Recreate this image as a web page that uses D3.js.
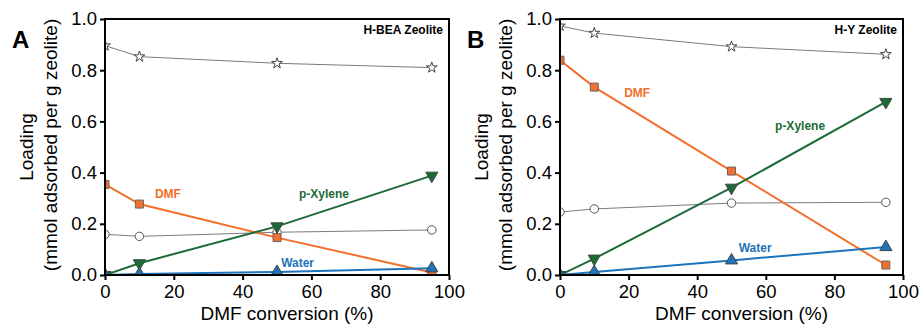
<!DOCTYPE html>
<html>
<head>
<meta charset="utf-8">
<script src="https://cdn.jsdelivr.net/npm/d3@7"></script>
<style>
  body { margin: 0; background: #fff; }
  text { font-family: Arial, 'Liberation Sans', Helvetica, sans-serif; }
</style>
</head>
<body>
<svg id="chart" width="921" height="325"></svg>
<script>
// DMF conversion (%) at which loadings were measured
const conversion = [0, 10, 50, 95];

// H-BEA zeolite
const beaTotal = [0.896, 0.853, 0.827, 0.81];
const beaOther = [0.159, 0.151, 0.167, 0.176];
const beaDMF = [0.354, 0.277, 0.146, 0.01];
const beaXylene = [0.0, 0.046, 0.19, 0.388];
const beaWater = [0.0, 0.004, 0.012, 0.026];

// H-Y zeolite
const hyTotal = [0.973, 0.945, 0.892, 0.862];
const hyOther = [0.246, 0.258, 0.281, 0.284];
const hyDMF = [0.839, 0.734, 0.406, 0.039];
const hyXylene = [0.0, 0.064, 0.341, 0.676];
const hyWater = [0.0, 0.012, 0.057, 0.109];

const xTicks = [0, 20, 40, 60, 80, 100];
const yTicks = [0, 0.2, 0.4, 0.6, 0.8, 1.0];

const GRAY = '#7a7a7a';
const ORANGE = '#f36f2c';
const GREEN = '#1b6b37';
const BLUE = '#1e73bb';
const FONT = 19;
const TICK_FONT = 18.5;

const svg = d3.select('#chart');

// one panel = one zeolite
function drawPanel(opts) {
  const { left, right, top, bottom, letter, title, series, labels, id } = opts;
  const x = d3.scaleLinear().domain([0, 100]).range([left, right]);
  const y = d3.scaleLinear().domain([0, 1]).range([bottom, top]);
  const g = svg.append('g').attr('id', id);

  g.append('clipPath')
    .attr('id', `clip-${id}`)
    .append('rect')
    .attr('x', left)
    .attr('y', top)
    .attr('width', right - left)
    .attr('height', bottom - top);

  const plot = g.append('g').attr('clip-path', `url(#clip-${id})`);

  const line = (vals) =>
    d3.line()
      .x((_, i) => x(conversion[i]))
      .y((d) => y(d))(vals);

  // lines first, markers on top
  series.forEach((s) => {
    plot.append('path')
      .attr('d', line(s.values))
      .attr('fill', 'none')
      .attr('stroke', s.line)
      .attr('stroke-width', s.width);
  });

  series.forEach((s) => {
    plot.append('g')
      .selectAll('path')
      .data(s.values)
      .join('path')
      .attr('d', d3.symbol().type(s.symbol).size(s.size))
      .attr('transform', (d, i) => `translate(${x(conversion[i])},${y(d)}) rotate(${s.rotate || 0})`)
      .attr('fill', s.fill)
      .attr('stroke', s.stroke)
      .attr('stroke-width', 1);
  });

  // axes
  const xAxis = g.append('g')
    .attr('transform', `translate(0,${bottom})`)
    .call(d3.axisBottom(x).tickValues(xTicks).tickSize(5).tickPadding(5).tickFormat(d3.format('d')));
  const yAxis = g.append('g')
    .attr('transform', `translate(${left},0)`)
    .call(d3.axisLeft(y).tickValues(yTicks).tickSize(5).tickPadding(3).tickFormat(d3.format('.1f')));
  [xAxis, yAxis].forEach((a) => {
    a.selectAll('text').attr('font-size', TICK_FONT).attr('fill', '#000').style('font-family', 'Arial, Liberation Sans, sans-serif');
    a.selectAll('line').attr('stroke', '#000').attr('stroke-width', 2);
    a.select('.domain').remove();
  });

  g.append('rect')
    .attr('x', left)
    .attr('y', top)
    .attr('width', right - left)
    .attr('height', bottom - top)
    .attr('fill', 'none')
    .attr('stroke', '#000')
    .attr('stroke-width', 2);

  // axis titles
  g.append('text')
    .attr('x', (left + right) / 2 + 10)
    .attr('y', bottom + 45)
    .attr('text-anchor', 'middle')
    .attr('font-size', FONT)
    .text('DMF conversion (%)');

  const yMid = (top + bottom) / 2;
  g.append('text')
    .attr('transform', `translate(${left - 72},${yMid}) rotate(-90)`)
    .attr('text-anchor', 'middle')
    .attr('font-size', FONT)
    .text('Loading');
  g.append('text')
    .attr('transform', `translate(${left - 48},${yMid - 2}) rotate(-90)`)
    .attr('text-anchor', 'middle')
    .attr('font-size', FONT)
    .text('(mmol adsorbed per g zeolite)');

  // panel letter and zeolite name
  g.append('text')
    .attr('x', left - 93)
    .attr('y', top + 29)
    .attr('font-size', 24)
    .attr('font-weight', 'bold')
    .text(letter);
  g.append('text')
    .attr('x', right - 6)
    .attr('y', top + 15)
    .attr('text-anchor', 'end')
    .attr('font-size', 12)
    .attr('font-weight', 'bold')
    .text(title);

  // series labels
  labels.forEach((l) => {
    g.append('text')
      .attr('x', x(l.x))
      .attr('y', y(l.y))
      .attr('font-size', 12)
      .attr('font-weight', 'bold')
      .attr('fill', l.color)
      .text(l.text);
  });
}

function seriesFor(total, other, dmf, xylene, water) {
  return [
    { values: total, line: GRAY, width: 1, symbol: d3.symbolStar, size: 36, fill: '#fff', stroke: '#444' },
    { values: other, line: GRAY, width: 1, symbol: d3.symbolCircle, size: 56, fill: '#fff', stroke: '#555' },
    { values: dmf, line: ORANGE, width: 2, symbol: d3.symbolSquare, size: 64, fill: ORANGE, stroke: '#666' },
    { values: xylene, line: GREEN, width: 2, symbol: d3.symbolTriangle, size: 64, fill: GREEN, stroke: '#444', rotate: 180 },
    { values: water, line: BLUE, width: 2, symbol: d3.symbolTriangle, size: 64, fill: BLUE, stroke: '#444' },
  ];
}

drawPanel({
  id: 'bea',
  left: 105, right: 449, top: 19, bottom: 275,
  letter: 'A',
  title: 'H-BEA Zeolite',
  series: seriesFor(beaTotal, beaOther, beaDMF, beaXylene, beaWater),
  labels: [
    { text: 'DMF', x: 14.5, y: 0.3, color: ORANGE },
    { text: 'p-Xylene', x: 56.4, y: 0.3, color: GREEN },
    { text: 'Water', x: 51.2, y: 0.03, color: BLUE },
  ],
});

drawPanel({
  id: 'hy',
  left: 560, right: 903, top: 19, bottom: 275,
  letter: 'B',
  title: 'H-Y Zeolite',
  series: seriesFor(hyTotal, hyOther, hyDMF, hyXylene, hyWater),
  labels: [
    { text: 'DMF', x: 18.7, y: 0.695, color: ORANGE },
    { text: 'p-Xylene', x: 62.7, y: 0.567, color: GREEN },
    { text: 'Water', x: 52.1, y: 0.088, color: BLUE },
  ],
});
</script>
</body>
</html>
